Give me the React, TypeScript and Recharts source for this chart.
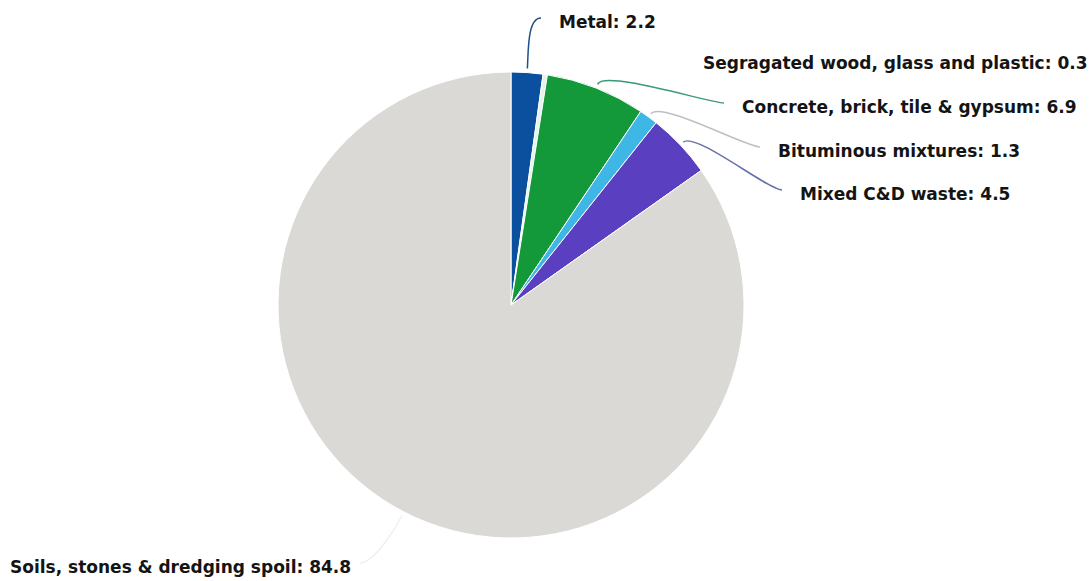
import React from "react"
import { PieChart, Pie, Cell } from "recharts"

// share of construction & demolition waste by type (%)
const categorias = [
  "Metal",
  "Segragated wood, glass and plastic",
  "Concrete, brick, tile & gypsum",
  "Bituminous mixtures",
  "Mixed C&D waste",
  "Soils, stones & dredging spoil",
]
const valores = [2.2, 0.3, 6.9, 1.3, 4.5, 84.8]
const cores = ["#0b4f9f", "#e4f4ec", "#13983a", "#3eb6e6", "#5a3fc0", "#dad9d6"]
const coresLinha = ["#1f4f8a", "#ffffff", "#3a9a78", "#b9c0c6", "#6670a8", "#f0f0f0"]

// where each label's text starts (x) and its row (y)
const rotuloX = [559, 703, 742, 778, 800, 10]
const rotuloY = [22, 63, 107, 151, 194, 567]

const dados = categorias.map((nome, i) => ({ nome, valor: valores[i] }))

const CX = 511
const CY = 305
const RAIO = 233
const RAD = Math.PI / 180

function Rotulo(props: any) {
  const { midAngle, index } = props
  const ang = -midAngle * RAD
  const ux = Math.cos(ang)
  const uy = Math.sin(ang)
  const x0 = CX + (RAIO + 4) * ux
  const y0 = CY + (RAIO + 4) * uy
  const tx = rotuloX[index]
  const ty = rotuloY[index]
  const direita = ux >= 0

  const ex = direita ? tx - 18 : 360
  const ey = ty - 4
  const c1x = x0 + ux * 16
  const c1y = y0 + uy * 16
  const c2x = direita ? ex - 14 : ex + 14
  const caminho = `M${x0},${y0} C${c1x},${c1y} ${c2x},${ey} ${ex},${ey}`

  return (
    <g>
      <path d={caminho} fill="none" stroke={coresLinha[index]} strokeWidth={1.5} />
      <text
        x={tx}
        y={ty}
        textAnchor="start"
        dominantBaseline="central"
        fontFamily="DejaVu Sans, sans-serif"
        fontWeight="bold"
        fontSize={17}
        fill="#141414"
      >
        {`${categorias[index]}: ${valores[index]}`}
      </text>
    </g>
  )
}

export default function App() {
  return (
    <div style={{ position: "fixed", left: 0, top: 0, width: 1090, height: 581, background: "#fff" }}>
      <PieChart width={1090} height={581} margin={{ top: 0, right: 0, bottom: 0, left: 0 }}>
        <Pie
          data={dados}
          dataKey="valor"
          nameKey="nome"
          cx={CX}
          cy={CY}
          outerRadius={RAIO}
          startAngle={90}
          endAngle={-270}
          stroke="#ffffff"
          strokeWidth={1}
          label={Rotulo}
          labelLine={false}
          isAnimationActive={false}
        >
          {dados.map((item, idx) => (
            <Cell key={idx} fill={cores[idx]} />
          ))}
        </Pie>
      </PieChart>
    </div>
  )
}
